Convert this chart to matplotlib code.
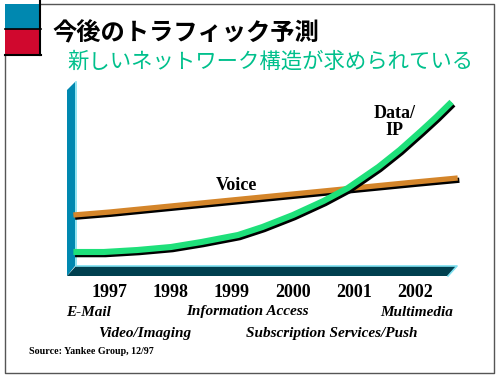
import matplotlib
matplotlib.use("Agg")
import matplotlib.pyplot as plt
import matplotlib.patheffects as pe
from matplotlib.patches import Polygon, Rectangle

# ---- data ----
title = "今後のトラフィック予測"
subtitle = "新しいネットワーク構造が求められている"
years = [1997, 1998, 1999, 2000, 2001, 2002]
year_labels = ["1997", "1998", "1999", "2000", "2001", "2002"]

voice_x = [1996.4, 1997, 1998, 1999, 2000, 2001, 2002, 2002.7]
voice_y = [52, 55, 61, 67, 73, 79, 85, 89]

data_x = [1996.4, 1996.9, 1997.45, 1998.0, 1998.5, 1999.1, 1999.5, 2000.0,
          2000.5, 2000.9, 2001.4, 2001.75, 2002.1, 2002.35, 2002.6]
data_y = [15, 15, 17, 20, 25, 32, 40, 52, 66, 79, 100, 117, 136, 150, 165]

apps_row1 = ["E-Mail", "Information Access", "Multimedia"]
apps_row2 = ["Video/Imaging", "Subscription Services/Push"]
source = "Source: Yankee Group, 12/97"

CJK = ["Noto Sans CJK JP", "DejaVu Sans"]
SERIF = ["Liberation Serif", "DejaVu Serif"]

fig = plt.figure(figsize=(5, 3.8), dpi=100)
fig.patch.set_facecolor("white")

# pixel-space overlay for decorations
bg = fig.add_axes([0, 0, 1, 1])
bg.set_xlim(0, 500)
bg.set_ylim(380, 0)
bg.axis("off")

# frame
bg.plot([40, 494, 494, 5, 5], [4, 4, 373, 373, 54], color="#555555", lw=1.0)
# squares
bg.add_patch(Rectangle((5, 4), 35, 25, facecolor="#0088b0", edgecolor="none"))
bg.add_patch(Rectangle((5, 29), 35, 25, facecolor="#d0082e", edgecolor="none"))
bg.plot([40, 40], [0, 55], color="black", lw=1.5)
bg.plot([5, 41], [29, 29], color="black", lw=1.2)
bg.plot([5, 41], [54.5, 54.5], color="black", lw=1.5)

# titles
bg.text(52, 33, title, fontsize=17.5, fontweight="bold", family=CJK,
        ha="left", va="center", color="black")
bg.text(67, 62, subtitle, fontsize=15.4, style="italic", family=CJK,
        ha="left", va="center", color="#00c08c")

# 3D wall and floor
bg.add_patch(Polygon([(67, 90), (75, 82), (75, 266), (67, 276)],
                     closed=True, facecolor="#0088b0", edgecolor="none"))
bg.add_patch(Polygon([(76, 266), (457, 266), (448, 276), (67, 276)],
                     closed=True, facecolor="#00404f", edgecolor="none"))
bg.plot([76, 76, 457, 448], [82, 266, 266, 276], color="#7ee0f0", lw=1.2)

# data axes (transparent)
ax = fig.add_axes([66 / 500, (380 - 267) / 380, (460 - 66) / 500, (267 - 85) / 380])
ax.patch.set_alpha(0)
ax.set_xlim(1996.279, 2002.738)
ax.set_ylim(0, 182)
for s in ax.spines.values():
    s.set_visible(False)
ax.set_yticks([])
ax.set_xticks(years)
ax.set_xticklabels(year_labels, family=SERIF, fontweight="bold", fontsize=13)
ax.tick_params(axis="x", length=0, pad=12.5)

shadow = [pe.SimpleLineShadow(offset=(1.2, -1.6), shadow_color="black", alpha=1.0),
          pe.Normal()]
ax.plot(voice_x, voice_y, color="#d4852a", lw=3.8, solid_capstyle="butt",
        path_effects=shadow, clip_on=False)
ax.plot(data_x, data_y, color="#1ee07a", lw=4.4, solid_capstyle="butt",
        solid_joinstyle="round", path_effects=shadow, clip_on=False)

ax.text(1999.08, 82, "Voice", family=SERIF, fontweight="bold", fontsize=13,
        ha="center", va="center")
ax.text(2001.67, 145, "Data/\nIP", family=SERIF, fontweight="bold", fontsize=13,
        ha="center", va="center", linespacing=1.0)

# application labels (pixel positions)
for label, x in zip(apps_row1, [89, 247, 417]):
    bg.text(x, 312, label, family=SERIF, fontweight="bold", style="italic",
            fontsize=11, ha="center", va="center")
for label, x in zip(apps_row2, [145, 332]):
    bg.text(x, 333, label, family=SERIF, fontweight="bold", style="italic",
            fontsize=11, ha="center", va="center")
bg.text(29, 352, source, family=SERIF, fontweight="bold", fontsize=7.2,
        ha="left", va="center")

fig.savefig("out.png", dpi=100)
